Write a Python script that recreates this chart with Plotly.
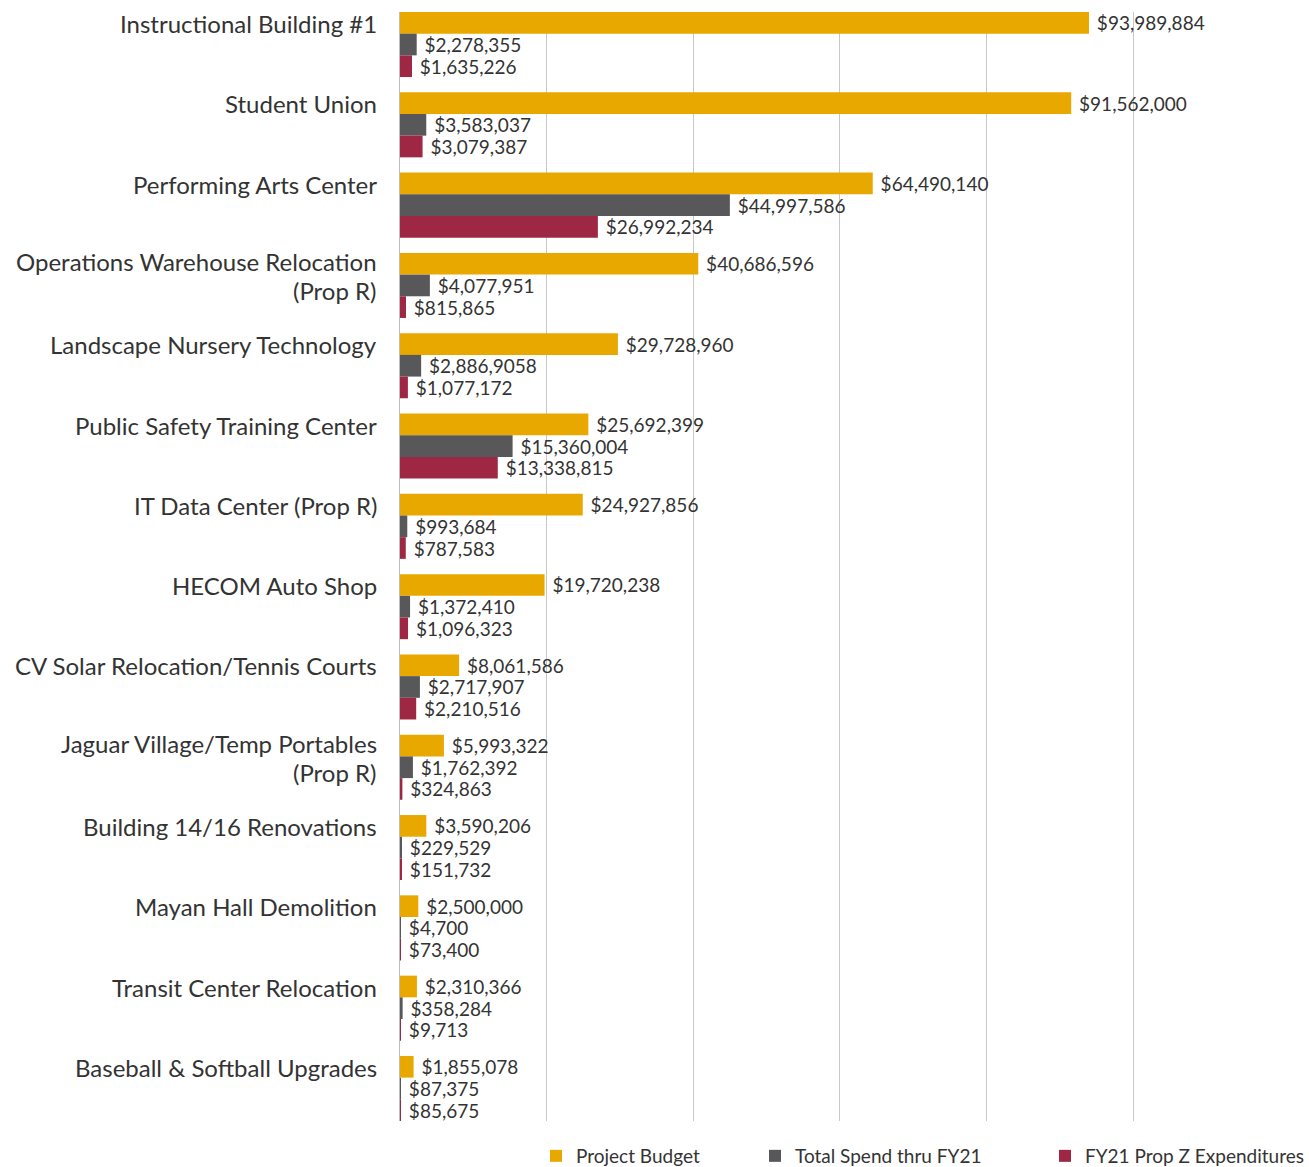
import plotly.graph_objects as go

categories = [
    "Instructional Building #1",
    "Student Union",
    "Performing Arts Center",
    "Operations Warehouse Relocation (Prop R)",
    "Landscape Nursery Technology",
    "Public Safety Training Center",
    "IT Data Center (Prop R)",
    "HECOM Auto Shop",
    "CV Solar Relocation/Tennis Courts",
    "Jaguar Village/Temp Portables (Prop R)",
    "Building 14/16 Renovations",
    "Mayan Hall Demolition",
    "Transit Center Relocation",
    "Baseball & Softball Upgrades",
]
category_lines = [
    ["Instructional Building #1"],
    ["Student Union"],
    ["Performing Arts Center"],
    ["Operations Warehouse Relocation", "(Prop R)"],
    ["Landscape Nursery Technology"],
    ["Public Safety Training Center"],
    ["IT Data Center (Prop R)"],
    ["HECOM Auto Shop"],
    ["CV Solar Relocation/Tennis Courts"],
    ["Jaguar Village/Temp Portables", "(Prop R)"],
    ["Building 14/16 Renovations"],
    ["Mayan Hall Demolition"],
    ["Transit Center Relocation"],
    ["Baseball & Softball Upgrades"],
]

project_budget = [93989884, 91562000, 64490140, 40686596, 29728960, 25692399,
                  24927856, 19720238, 8061586, 5993322, 3590206, 2500000,
                  2310366, 1855078]
total_spend = [2278355, 3583037, 44997586, 4077951, 2886906, 15360004,
               993684, 1372410, 2717907, 1762392, 229529, 4700,
               358284, 87375]
prop_z = [1635226, 3079387, 26992234, 815865, 1077172, 13338815,
          787583, 1096323, 2210516, 324863, 151732, 73400,
          9713, 85675]

budget_labels = ["$93,989,884", "$91,562,000", "$64,490,140", "$40,686,596",
                 "$29,728,960", "$25,692,399", "$24,927,856", "$19,720,238",
                 "$8,061,586", "$5,993,322", "$3,590,206", "$2,500,000",
                 "$2,310,366", "$1,855,078"]
spend_labels = ["$2,278,355", "$3,583,037", "$44,997,586", "$4,077,951",
                "$2,886,9058", "$15,360,004", "$993,684", "$1,372,410",
                "$2,717,907", "$1,762,392", "$229,529", "$4,700",
                "$358,284", "$87,375"]
propz_labels = ["$1,635,226", "$3,079,387", "$26,992,234", "$815,865",
                "$1,077,172", "$13,338,815", "$787,583", "$1,096,323",
                "$2,210,516", "$324,863", "$151,732", "$73,400",
                "$9,713", "$85,675"]

series_names = ["Project Budget", "Total Spend thru FY21", "FY21 Prop Z Expenditures"]
colors = ["#E8A800", "#58585A", "#9E2843"]

FONT = "Lato"
TEXT_COLOR = "#333333"

fig = go.Figure()
series = [(project_budget, budget_labels), (total_spend, spend_labels), (prop_z, propz_labels)]
legends = ["legend", "legend2", "legend3"]
for (vals, labs), name, col, lg in zip(series, series_names, colors, legends):
    fig.add_trace(go.Bar(
        y=categories, x=vals, orientation="h", name=name,
        marker=dict(color=col, line=dict(width=0)),
        text=labs, texttemplate="\u00a0%{text}", textposition="outside",
        constraintext="none", cliponaxis=False,
        textfont=dict(family=FONT, size=19, color=TEXT_COLOR),
        legend=lg, hoverinfo="skip",
    ))

LINE_GAP = 29
for cat, lines in zip(categories, category_lines):
    first_shift = 21 if len(lines) == 1 else 24
    for i, line in enumerate(lines):
        fig.add_annotation(
            x=0, xref="paper", y=cat, yref="y",
            text=line, showarrow=False, xanchor="right", yanchor="middle",
            align="right", borderpad=0,
            xshift=-22, yshift=first_shift - LINE_GAP * i,
            font=dict(family=FONT, size=24, color=TEXT_COLOR),
        )

half = 0.405
L, R = 400, 44
plot_w = 1309 - L - R
legend_common = dict(orientation="h", xanchor="left", yref="container",
                     y=(1167 - 1137) / 1167, yanchor="top",
                     font=dict(family=FONT, size=19, color=TEXT_COLOR),
                     bgcolor="rgba(0,0,0,0)")
fig.update_layout(
    width=1309, height=1167,
    margin=dict(l=L, r=R, t=12, b=46),
    paper_bgcolor="white", plot_bgcolor="white",
    barmode="group", bargap=0.19, bargroupgap=0,
    font=dict(family=FONT, color=TEXT_COLOR),
    xaxis=dict(range=[0, 118e6], dtick=20e6, tick0=0, showticklabels=False,
               showgrid=True, gridcolor="#C8C8C8", gridwidth=1,
               zeroline=False, showline=False, fixedrange=True),
    yaxis=dict(type="category", categoryorder="array", categoryarray=categories,
               range=[len(categories) - 1 + half, -half],
               showticklabels=False, showgrid=False, zeroline=False,
               showline=True, linecolor="#BDBDBD", linewidth=1, ticks=""),
    legend=dict(x=(536 - L) / plot_w, **legend_common),
    legend2=dict(x=(755 - L) / plot_w, **legend_common),
    legend3=dict(x=(1045 - L) / plot_w, **legend_common),
    showlegend=True,
)

fig.write_html("out.html")
